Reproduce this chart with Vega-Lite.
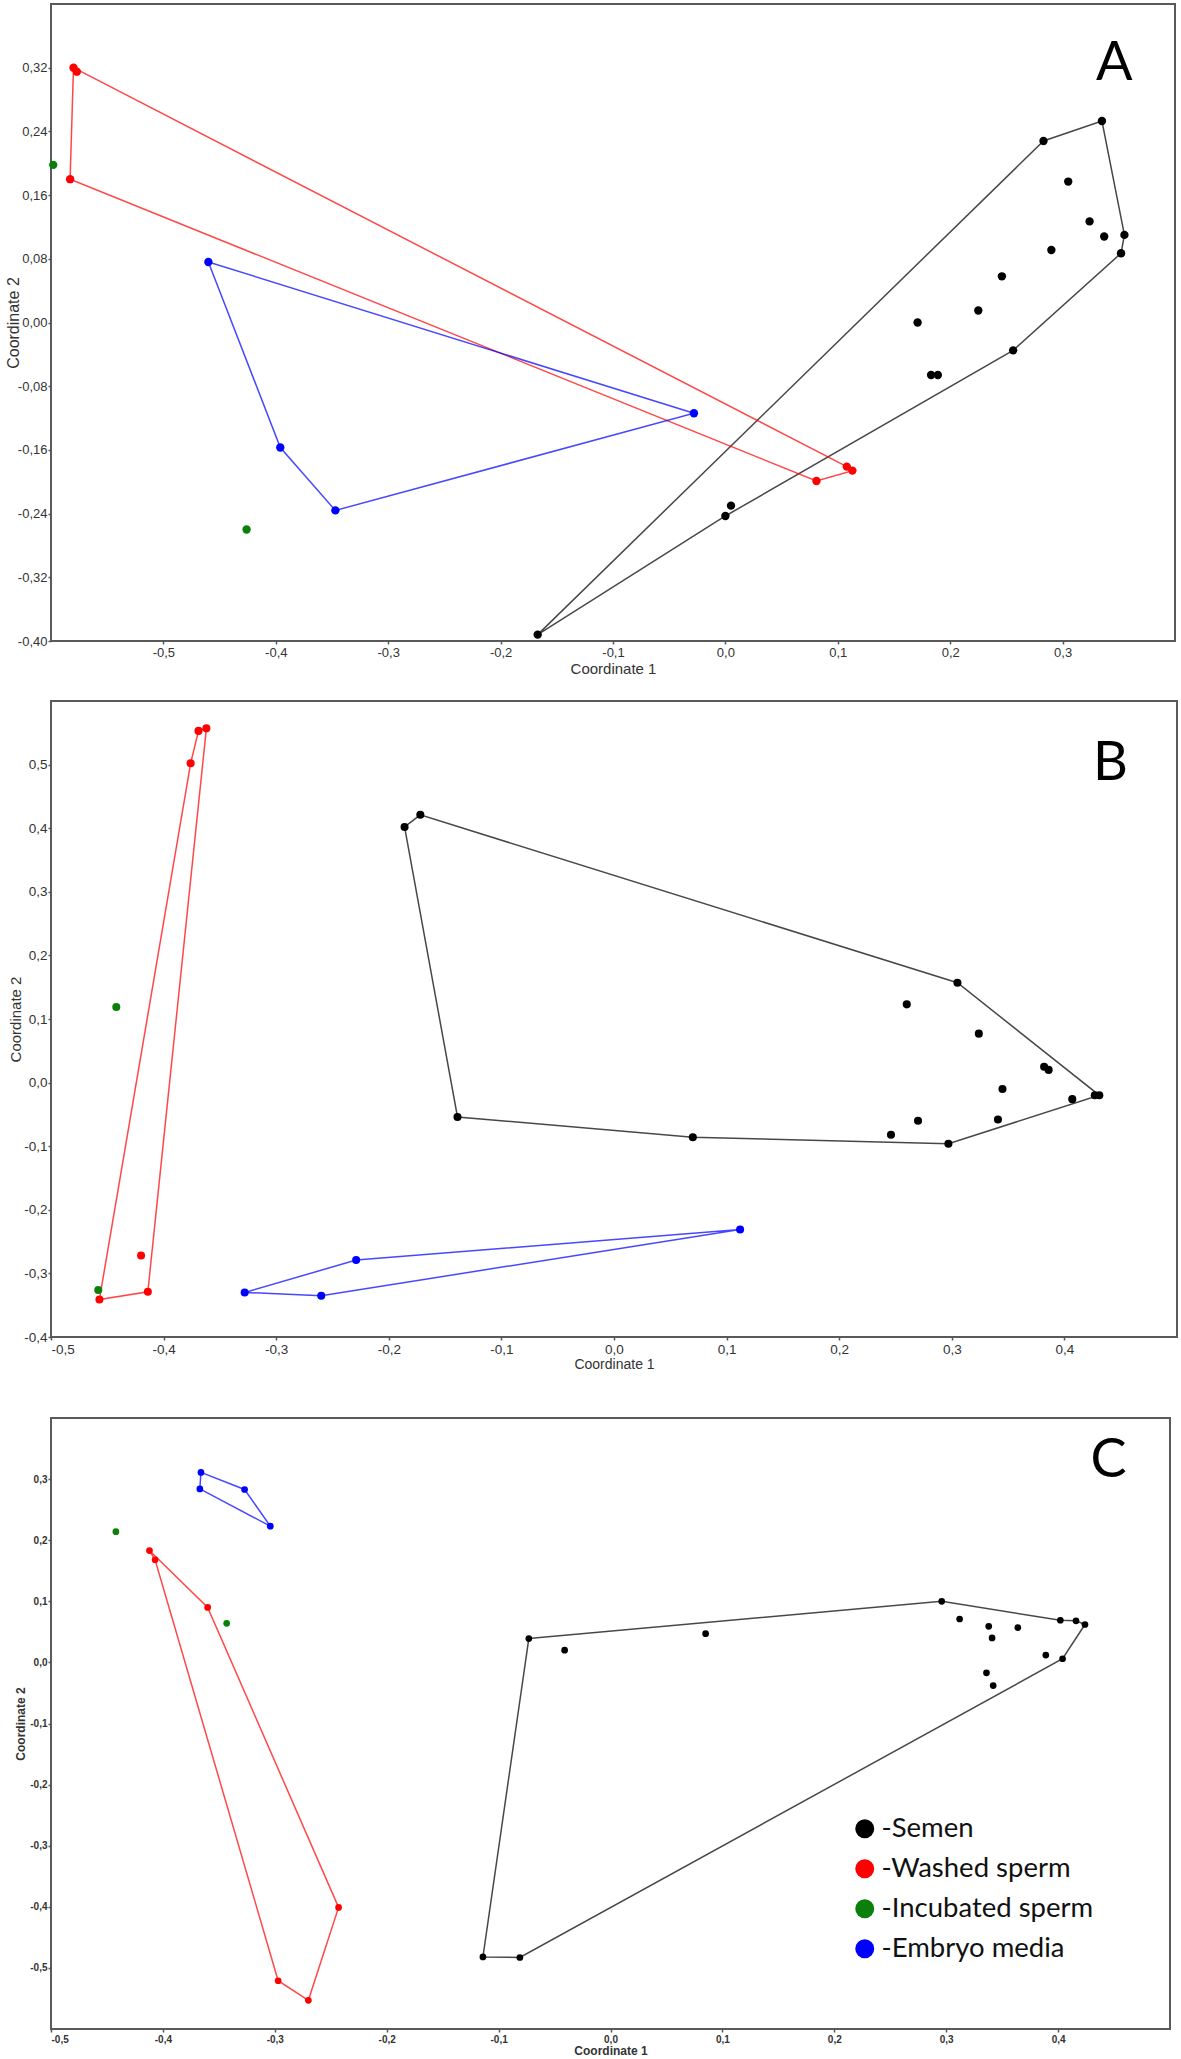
{
  "$schema": "https://vega.github.io/schema/vega-lite/v6.json",
  "padding": {"left": 4, "top": 3, "right": 4, "bottom": 2},
  "background": "white",
  "datasets": {
    "pts": [
      {"panel": "A", "group": "Semen", "x": 0.335, "y": 0.253},
      {"panel": "A", "group": "Semen", "x": 0.283, "y": 0.228},
      {"panel": "A", "group": "Semen", "x": 0.305, "y": 0.177},
      {"panel": "A", "group": "Semen", "x": 0.324, "y": 0.127},
      {"panel": "A", "group": "Semen", "x": 0.337, "y": 0.108},
      {"panel": "A", "group": "Semen", "x": 0.355, "y": 0.110},
      {"panel": "A", "group": "Semen", "x": 0.352, "y": 0.087},
      {"panel": "A", "group": "Semen", "x": 0.290, "y": 0.091},
      {"panel": "A", "group": "Semen", "x": 0.246, "y": 0.058},
      {"panel": "A", "group": "Semen", "x": 0.225, "y": 0.015},
      {"panel": "A", "group": "Semen", "x": 0.171, "y": 0.000},
      {"panel": "A", "group": "Semen", "x": 0.256, "y": -0.035},
      {"panel": "A", "group": "Semen", "x": 0.183, "y": -0.066},
      {"panel": "A", "group": "Semen", "x": 0.189, "y": -0.066},
      {"panel": "A", "group": "Semen", "x": 0.005, "y": -0.230},
      {"panel": "A", "group": "Semen", "x": 0.000, "y": -0.243},
      {"panel": "A", "group": "Semen", "x": -0.167, "y": -0.392},
      {"panel": "A", "group": "Washed sperm", "x": -0.580, "y": 0.320},
      {"panel": "A", "group": "Washed sperm", "x": -0.577, "y": 0.315},
      {"panel": "A", "group": "Washed sperm", "x": -0.583, "y": 0.180},
      {"panel": "A", "group": "Washed sperm", "x": 0.108, "y": -0.181},
      {"panel": "A", "group": "Washed sperm", "x": 0.113, "y": -0.186},
      {"panel": "A", "group": "Washed sperm", "x": 0.081, "y": -0.199},
      {"panel": "A", "group": "Incubated sperm", "x": -0.598, "y": 0.198},
      {"panel": "A", "group": "Incubated sperm", "x": -0.426, "y": -0.260},
      {"panel": "A", "group": "Embryo media", "x": -0.460, "y": 0.076},
      {"panel": "A", "group": "Embryo media", "x": -0.396, "y": -0.157},
      {"panel": "A", "group": "Embryo media", "x": -0.347, "y": -0.236},
      {"panel": "A", "group": "Embryo media", "x": -0.028, "y": -0.114},

      {"panel": "B", "group": "Semen", "x": -0.186, "y": 0.402},
      {"panel": "B", "group": "Semen", "x": -0.172, "y": 0.421},
      {"panel": "B", "group": "Semen", "x": -0.139, "y": -0.054},
      {"panel": "B", "group": "Semen", "x": 0.070, "y": -0.086},
      {"panel": "B", "group": "Semen", "x": 0.305, "y": 0.157},
      {"panel": "B", "group": "Semen", "x": 0.260, "y": 0.123},
      {"panel": "B", "group": "Semen", "x": 0.324, "y": 0.077},
      {"panel": "B", "group": "Semen", "x": 0.382, "y": 0.025},
      {"panel": "B", "group": "Semen", "x": 0.386, "y": 0.020},
      {"panel": "B", "group": "Semen", "x": 0.345, "y": -0.010},
      {"panel": "B", "group": "Semen", "x": 0.407, "y": -0.026},
      {"panel": "B", "group": "Semen", "x": 0.427, "y": -0.020},
      {"panel": "B", "group": "Semen", "x": 0.431, "y": -0.020},
      {"panel": "B", "group": "Semen", "x": 0.270, "y": -0.060},
      {"panel": "B", "group": "Semen", "x": 0.341, "y": -0.058},
      {"panel": "B", "group": "Semen", "x": 0.246, "y": -0.082},
      {"panel": "B", "group": "Semen", "x": 0.297, "y": -0.096},
      {"panel": "B", "group": "Washed sperm", "x": -0.362, "y": 0.557},
      {"panel": "B", "group": "Washed sperm", "x": -0.369, "y": 0.553},
      {"panel": "B", "group": "Washed sperm", "x": -0.376, "y": 0.502},
      {"panel": "B", "group": "Washed sperm", "x": -0.420, "y": -0.272},
      {"panel": "B", "group": "Washed sperm", "x": -0.414, "y": -0.329},
      {"panel": "B", "group": "Washed sperm", "x": -0.457, "y": -0.341},
      {"panel": "B", "group": "Incubated sperm", "x": -0.442, "y": 0.119},
      {"panel": "B", "group": "Incubated sperm", "x": -0.458, "y": -0.326},
      {"panel": "B", "group": "Embryo media", "x": -0.328, "y": -0.330},
      {"panel": "B", "group": "Embryo media", "x": -0.260, "y": -0.335},
      {"panel": "B", "group": "Embryo media", "x": -0.229, "y": -0.279},
      {"panel": "B", "group": "Embryo media", "x": 0.112, "y": -0.231},

      {"panel": "C", "group": "Semen", "x": -0.073, "y": 0.039},
      {"panel": "C", "group": "Semen", "x": -0.041, "y": 0.020},
      {"panel": "C", "group": "Semen", "x": -0.114, "y": -0.482},
      {"panel": "C", "group": "Semen", "x": -0.081, "y": -0.483},
      {"panel": "C", "group": "Semen", "x": 0.085, "y": 0.047},
      {"panel": "C", "group": "Semen", "x": 0.296, "y": 0.100},
      {"panel": "C", "group": "Semen", "x": 0.312, "y": 0.071},
      {"panel": "C", "group": "Semen", "x": 0.338, "y": 0.059},
      {"panel": "C", "group": "Semen", "x": 0.341, "y": 0.040},
      {"panel": "C", "group": "Semen", "x": 0.364, "y": 0.057},
      {"panel": "C", "group": "Semen", "x": 0.402, "y": 0.069},
      {"panel": "C", "group": "Semen", "x": 0.416, "y": 0.068},
      {"panel": "C", "group": "Semen", "x": 0.424, "y": 0.062},
      {"panel": "C", "group": "Semen", "x": 0.389, "y": 0.012},
      {"panel": "C", "group": "Semen", "x": 0.404, "y": 0.006},
      {"panel": "C", "group": "Semen", "x": 0.336, "y": -0.017},
      {"panel": "C", "group": "Semen", "x": 0.342, "y": -0.038},
      {"panel": "C", "group": "Washed sperm", "x": -0.412, "y": 0.183},
      {"panel": "C", "group": "Washed sperm", "x": -0.407, "y": 0.168},
      {"panel": "C", "group": "Washed sperm", "x": -0.360, "y": 0.090},
      {"panel": "C", "group": "Washed sperm", "x": -0.243, "y": -0.401},
      {"panel": "C", "group": "Washed sperm", "x": -0.297, "y": -0.521},
      {"panel": "C", "group": "Washed sperm", "x": -0.270, "y": -0.553},
      {"panel": "C", "group": "Incubated sperm", "x": -0.442, "y": 0.214},
      {"panel": "C", "group": "Incubated sperm", "x": -0.343, "y": 0.064},
      {"panel": "C", "group": "Embryo media", "x": -0.366, "y": 0.311},
      {"panel": "C", "group": "Embryo media", "x": -0.367, "y": 0.284},
      {"panel": "C", "group": "Embryo media", "x": -0.327, "y": 0.283},
      {"panel": "C", "group": "Embryo media", "x": -0.304, "y": 0.223}
    ],
    "hull": [
      {"panel": "A", "group": "Semen", "i": 0, "x": -0.167, "y": -0.392},
      {"panel": "A", "group": "Semen", "i": 1, "x": 0.000, "y": -0.243},
      {"panel": "A", "group": "Semen", "i": 2, "x": 0.256, "y": -0.035},
      {"panel": "A", "group": "Semen", "i": 3, "x": 0.352, "y": 0.087},
      {"panel": "A", "group": "Semen", "i": 4, "x": 0.355, "y": 0.110},
      {"panel": "A", "group": "Semen", "i": 5, "x": 0.335, "y": 0.253},
      {"panel": "A", "group": "Semen", "i": 6, "x": 0.283, "y": 0.228},
      {"panel": "A", "group": "Semen", "i": 7, "x": -0.167, "y": -0.392},
      {"panel": "A", "group": "Washed sperm", "i": 0, "x": -0.580, "y": 0.320},
      {"panel": "A", "group": "Washed sperm", "i": 1, "x": 0.108, "y": -0.181},
      {"panel": "A", "group": "Washed sperm", "i": 2, "x": 0.113, "y": -0.186},
      {"panel": "A", "group": "Washed sperm", "i": 3, "x": 0.081, "y": -0.199},
      {"panel": "A", "group": "Washed sperm", "i": 4, "x": -0.583, "y": 0.180},
      {"panel": "A", "group": "Washed sperm", "i": 5, "x": -0.580, "y": 0.320},
      {"panel": "A", "group": "Embryo media", "i": 0, "x": -0.460, "y": 0.076},
      {"panel": "A", "group": "Embryo media", "i": 1, "x": -0.028, "y": -0.114},
      {"panel": "A", "group": "Embryo media", "i": 2, "x": -0.347, "y": -0.236},
      {"panel": "A", "group": "Embryo media", "i": 3, "x": -0.396, "y": -0.157},
      {"panel": "A", "group": "Embryo media", "i": 4, "x": -0.460, "y": 0.076},

      {"panel": "B", "group": "Semen", "i": 0, "x": -0.186, "y": 0.402},
      {"panel": "B", "group": "Semen", "i": 1, "x": -0.172, "y": 0.421},
      {"panel": "B", "group": "Semen", "i": 2, "x": 0.305, "y": 0.157},
      {"panel": "B", "group": "Semen", "i": 3, "x": 0.431, "y": -0.020},
      {"panel": "B", "group": "Semen", "i": 4, "x": 0.297, "y": -0.096},
      {"panel": "B", "group": "Semen", "i": 5, "x": 0.070, "y": -0.086},
      {"panel": "B", "group": "Semen", "i": 6, "x": -0.139, "y": -0.054},
      {"panel": "B", "group": "Semen", "i": 7, "x": -0.186, "y": 0.402},
      {"panel": "B", "group": "Washed sperm", "i": 0, "x": -0.362, "y": 0.557},
      {"panel": "B", "group": "Washed sperm", "i": 1, "x": -0.414, "y": -0.329},
      {"panel": "B", "group": "Washed sperm", "i": 2, "x": -0.457, "y": -0.341},
      {"panel": "B", "group": "Washed sperm", "i": 3, "x": -0.376, "y": 0.502},
      {"panel": "B", "group": "Washed sperm", "i": 4, "x": -0.369, "y": 0.553},
      {"panel": "B", "group": "Washed sperm", "i": 5, "x": -0.362, "y": 0.557},
      {"panel": "B", "group": "Embryo media", "i": 0, "x": -0.328, "y": -0.330},
      {"panel": "B", "group": "Embryo media", "i": 1, "x": -0.229, "y": -0.279},
      {"panel": "B", "group": "Embryo media", "i": 2, "x": 0.112, "y": -0.231},
      {"panel": "B", "group": "Embryo media", "i": 3, "x": -0.260, "y": -0.335},
      {"panel": "B", "group": "Embryo media", "i": 4, "x": -0.328, "y": -0.330},

      {"panel": "C", "group": "Semen", "i": 0, "x": -0.073, "y": 0.039},
      {"panel": "C", "group": "Semen", "i": 1, "x": 0.296, "y": 0.100},
      {"panel": "C", "group": "Semen", "i": 2, "x": 0.402, "y": 0.069},
      {"panel": "C", "group": "Semen", "i": 3, "x": 0.416, "y": 0.068},
      {"panel": "C", "group": "Semen", "i": 4, "x": 0.424, "y": 0.062},
      {"panel": "C", "group": "Semen", "i": 5, "x": 0.404, "y": 0.006},
      {"panel": "C", "group": "Semen", "i": 6, "x": -0.081, "y": -0.483},
      {"panel": "C", "group": "Semen", "i": 7, "x": -0.114, "y": -0.482},
      {"panel": "C", "group": "Semen", "i": 8, "x": -0.073, "y": 0.039},
      {"panel": "C", "group": "Washed sperm", "i": 0, "x": -0.412, "y": 0.183},
      {"panel": "C", "group": "Washed sperm", "i": 1, "x": -0.360, "y": 0.090},
      {"panel": "C", "group": "Washed sperm", "i": 2, "x": -0.243, "y": -0.401},
      {"panel": "C", "group": "Washed sperm", "i": 3, "x": -0.270, "y": -0.553},
      {"panel": "C", "group": "Washed sperm", "i": 4, "x": -0.297, "y": -0.521},
      {"panel": "C", "group": "Washed sperm", "i": 5, "x": -0.407, "y": 0.168},
      {"panel": "C", "group": "Washed sperm", "i": 6, "x": -0.412, "y": 0.183},
      {"panel": "C", "group": "Embryo media", "i": 0, "x": -0.366, "y": 0.311},
      {"panel": "C", "group": "Embryo media", "i": 1, "x": -0.327, "y": 0.283},
      {"panel": "C", "group": "Embryo media", "i": 2, "x": -0.304, "y": 0.223},
      {"panel": "C", "group": "Embryo media", "i": 3, "x": -0.367, "y": 0.284},
      {"panel": "C", "group": "Embryo media", "i": 4, "x": -0.366, "y": 0.311}
    ],
    "labels": [
      {"panel": "A", "label": "A"},
      {"panel": "B", "label": "B"},
      {"panel": "C", "label": "C"}
    ]
  },
  "vconcat": [
    {
      "width": 1124,
      "height": 637,
      "layer": [
        {
          "data": {"name": "hull"},
          "transform": [{"filter": "datum.panel == 'A'"}],
          "mark": {"type": "line", "strokeWidth": 1.5, "opacity": 0.72},
          "encoding": {
            "x": {"field": "x", "type": "quantitative", "title": "Coordinate 1",
              "scale": {"domain": [-0.6, 0.4], "nice": false, "zero": false},
              "axis": {"values": [-0.5, -0.4, -0.3, -0.2, -0.1, 0, 0.1, 0.2, 0.3],
                "labelExpr": "replace(replace(format(datum.value, '.1f'), '.', ','), '\u2212', '-')",
                "labelFontSize": 13, "titleFontSize": 15, "titlePadding": 2, "labelPadding": 2}},
            "y": {"field": "y", "type": "quantitative", "title": "Coordinate 2",
              "scale": {"domain": [-0.4, 0.4], "nice": false, "zero": false},
              "axis": {"values": [-0.4, -0.32, -0.24, -0.16, -0.08, 0, 0.08, 0.16, 0.24, 0.32],
                "labelExpr": "replace(replace(format(datum.value, '.2f'), '.', ','), '\u2212', '-')",
                "labelFontSize": 13, "titleFontSize": 16, "titlePadding": 2, "labelPadding": 1,
                "minExtent": 28, "maxExtent": 28}},
            "color": {"field": "group", "type": "nominal",
              "scale": {"domain": ["Semen", "Washed sperm", "Incubated sperm", "Embryo media"], "range": ["#000000", "#ff0000", "#0a800a", "#0000ff"]}},
            "order": {"field": "i", "type": "quantitative"}
          }
        },
        {
          "data": {"name": "pts"},
          "transform": [{"filter": "datum.panel == 'A'"}],
          "mark": {"type": "circle", "size": 70, "opacity": 1},
          "encoding": {
            "x": {"field": "x", "type": "quantitative"},
            "y": {"field": "y", "type": "quantitative"},
            "color": {"field": "group", "type": "nominal"}
          }
        },
        {
          "data": {"name": "labels"},
          "transform": [{"filter": "datum.panel == 'A'"}],
          "mark": {"type": "text", "font": "Lato", "fontSize": 54, "align": "center", "baseline": "alphabetic", "fill": "#000000"},
          "encoding": {"x": {"datum": 0.346, "type": "quantitative"}, "y": {"datum": 0.305, "type": "quantitative"}, "text": {"field": "label", "type": "nominal"}}
        }
      ]
    },
    {
      "spacing": 44,
      "vconcat": [
        {
          "width": 1126,
          "height": 636,
          "layer": [
            {
              "data": {"name": "hull"},
              "transform": [{"filter": "datum.panel == 'B'"}],
              "mark": {"type": "line", "strokeWidth": 1.5, "opacity": 0.72},
              "encoding": {
                "x": {"field": "x", "type": "quantitative", "title": "Coordinate 1",
                  "scale": {"domain": [-0.5, 0.5], "nice": false, "zero": false},
                  "axis": {"values": [-0.5, -0.4, -0.3, -0.2, -0.1, 0, 0.1, 0.2, 0.3, 0.4],
                    "labelExpr": "replace(replace(format(datum.value, '.1f'), '.', ','), '\u2212', '-')",
                    "labelFontSize": 13.5, "titleFontSize": 14, "titlePadding": 2, "labelPadding": 2}},
                "y": {"field": "y", "type": "quantitative", "title": "Coordinate 2",
                  "scale": {"domain": [-0.4, 0.6], "nice": false, "zero": false},
                  "axis": {"values": [-0.4, -0.3, -0.2, -0.1, 0, 0.1, 0.2, 0.3, 0.4, 0.5],
                    "labelExpr": "replace(replace(format(datum.value, '.1f'), '.', ','), '\u2212', '-')",
                    "labelFontSize": 13.5, "titleFontSize": 15, "titlePadding": 2, "labelPadding": 1,
                    "minExtent": 26, "maxExtent": 26}},
                "color": {"field": "group", "type": "nominal"},
                "order": {"field": "i", "type": "quantitative"}
              }
            },
            {
              "data": {"name": "pts"},
              "transform": [{"filter": "datum.panel == 'B'"}],
              "mark": {"type": "circle", "size": 65, "opacity": 1},
              "encoding": {
                "x": {"field": "x", "type": "quantitative"},
                "y": {"field": "y", "type": "quantitative"},
                "color": {"field": "group", "type": "nominal"}
              }
            },
            {
              "data": {"name": "labels"},
              "transform": [{"filter": "datum.panel == 'B'"}],
              "mark": {"type": "text", "font": "Lato", "fontSize": 54, "align": "center", "baseline": "alphabetic", "fill": "#000000"},
              "encoding": {"x": {"datum": 0.441, "type": "quantitative"}, "y": {"datum": 0.476, "type": "quantitative"}, "text": {"field": "label", "type": "nominal"}}
            }
          ]
        },
        {
          "width": 1119,
          "height": 611,
          "layer": [
            {
              "data": {"name": "hull"},
              "transform": [{"filter": "datum.panel == 'C'"}],
              "mark": {"type": "line", "strokeWidth": 1.5, "opacity": 0.72},
              "encoding": {
                "x": {"field": "x", "type": "quantitative", "title": "Coordinate 1",
                  "scale": {"domain": [-0.5, 0.5], "nice": false, "zero": false},
                  "axis": {"values": [-0.5, -0.4, -0.3, -0.2, -0.1, 0, 0.1, 0.2, 0.3, 0.4],
                    "labelExpr": "replace(replace(format(datum.value, '.1f'), '.', ','), '\u2212', '-')",
                    "labelFontSize": 10, "labelFontWeight": "bold", "titleFontSize": 12, "titleFontWeight": "bold", "titlePadding": 1, "labelPadding": 2}},
                "y": {"field": "y", "type": "quantitative", "title": "Coordinate 2",
                  "scale": {"domain": [-0.6, 0.4], "nice": false, "zero": false},
                  "axis": {"values": [-0.5, -0.4, -0.3, -0.2, -0.1, 0, 0.1, 0.2, 0.3],
                    "labelExpr": "replace(replace(format(datum.value, '.1f'), '.', ','), '\u2212', '-')",
                    "labelFontSize": 10, "labelFontWeight": "bold", "titleFontSize": 12, "titleFontWeight": "bold", "titlePadding": 2, "labelPadding": 1,
                    "minExtent": 22, "maxExtent": 22}},
                "color": {"field": "group", "type": "nominal"},
                "order": {"field": "i", "type": "quantitative"}
              }
            },
            {
              "data": {"name": "pts"},
              "transform": [{"filter": "datum.panel == 'C'"}],
              "mark": {"type": "circle", "size": 45, "opacity": 1},
              "encoding": {
                "x": {"field": "x", "type": "quantitative"},
                "y": {"field": "y", "type": "quantitative"},
                "color": {"field": "group", "type": "nominal",
                  "legend": {
                    "orient": "none", "legendX": 800, "legendY": 1811, "title": null,
                    "symbolType": "circle", "symbolSize": 360, "symbolStrokeWidth": 0, "symbolOpacity": 1,
                    "labelFont": "Lato", "labelFontSize": 27.5, "labelColor": "#111111", "labelLimit": 500,
                    "labelOffset": 3, "rowPadding": 11, "padding": 0,
                    "labelExpr": "(datum.label == 'Incubated sperm' || datum.label == 'Embryo media') ? '\u00a0\u00a0-' + datum.label : '-' + datum.label",
                    "encode": {"symbols": {"update": {
                      "size": {"value": 360},
                      "opacity": {"value": 1}
                    }}}
                  }}
              }
            },
            {
              "data": {"name": "labels"},
              "transform": [{"filter": "datum.panel == 'C'"}],
              "mark": {"type": "text", "font": "Lato", "fontSize": 54, "align": "center", "baseline": "alphabetic", "fill": "#000000"},
              "encoding": {"x": {"datum": 0.445, "type": "quantitative"}, "y": {"datum": 0.303, "type": "quantitative"}, "text": {"field": "label", "type": "nominal"}}
            }
          ]
        }
      ]
    }
  ],
  "spacing": 23,
  "config": {
    "view": {"stroke": "#5a5a5a", "strokeWidth": 2},
    "axis": {
      "domain": false, "grid": false, "ticks": true,
      "tickColor": "#555555", "tickSize": 3, "tickWidth": 1.5,
      "labelFont": "Liberation Sans", "titleFont": "Liberation Sans",
      "labelColor": "#333333", "titleColor": "#333333", "titleFontWeight": "normal"
    }
  }
}
